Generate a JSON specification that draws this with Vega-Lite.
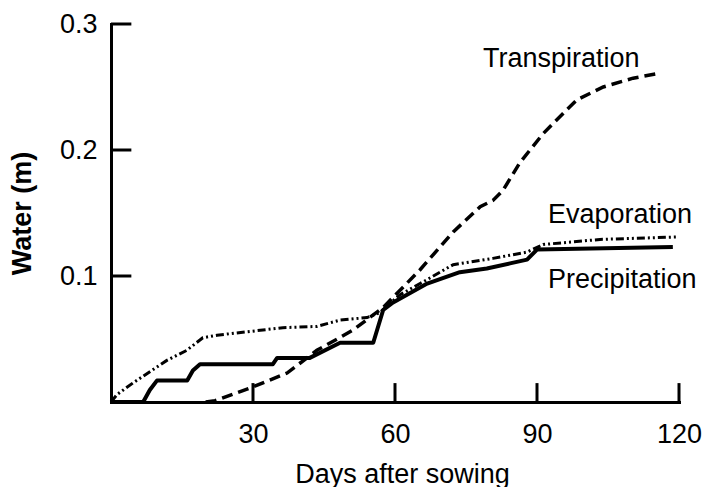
{
  "$schema": "https://vega.github.io/schema/vega-lite/v6.json",
  "width": 568,
  "height": 378,
  "autosize": {"type": "none"},
  "padding": {"left": 111, "top": 24, "right": 23, "bottom": 85},
  "background": "white",
  "config": {"view": {"stroke": null}, "font": "Liberation Sans"},
  "datasets": {
    "series": [
      {"series": "Precipitation", "day": 0, "water": 0},
      {"series": "Precipitation", "day": 6.8, "water": 0},
      {"series": "Precipitation", "day": 8.2, "water": 0.0095},
      {"series": "Precipitation", "day": 9.7, "water": 0.017},
      {"series": "Precipitation", "day": 16.1, "water": 0.017},
      {"series": "Precipitation", "day": 17.3, "water": 0.025},
      {"series": "Precipitation", "day": 18.8, "water": 0.03},
      {"series": "Precipitation", "day": 34.2, "water": 0.03},
      {"series": "Precipitation", "day": 35.1, "water": 0.035},
      {"series": "Precipitation", "day": 42, "water": 0.035},
      {"series": "Precipitation", "day": 48.4, "water": 0.047},
      {"series": "Precipitation", "day": 55.4, "water": 0.047},
      {"series": "Precipitation", "day": 57.5, "water": 0.073},
      {"series": "Precipitation", "day": 59.6, "water": 0.079},
      {"series": "Precipitation", "day": 66.8, "water": 0.094},
      {"series": "Precipitation", "day": 73.7, "water": 0.103},
      {"series": "Precipitation", "day": 79.4, "water": 0.106},
      {"series": "Precipitation", "day": 84.3, "water": 0.11},
      {"series": "Precipitation", "day": 87.9, "water": 0.113},
      {"series": "Precipitation", "day": 90, "water": 0.121},
      {"series": "Precipitation", "day": 118.7, "water": 0.123},
      {"series": "Evaporation", "day": 0, "water": 0},
      {"series": "Evaporation", "day": 1.3, "water": 0.006},
      {"series": "Evaporation", "day": 4.6, "water": 0.015},
      {"series": "Evaporation", "day": 11.8, "water": 0.033},
      {"series": "Evaporation", "day": 16, "water": 0.041},
      {"series": "Evaporation", "day": 19.4, "water": 0.051},
      {"series": "Evaporation", "day": 22.4, "water": 0.053},
      {"series": "Evaporation", "day": 29.4, "water": 0.056},
      {"series": "Evaporation", "day": 36.3, "water": 0.059},
      {"series": "Evaporation", "day": 43.5, "water": 0.06},
      {"series": "Evaporation", "day": 48.4, "water": 0.065},
      {"series": "Evaporation", "day": 54.1, "water": 0.067},
      {"series": "Evaporation", "day": 56.8, "water": 0.071},
      {"series": "Evaporation", "day": 61, "water": 0.085},
      {"series": "Evaporation", "day": 65.3, "water": 0.094},
      {"series": "Evaporation", "day": 72.3, "water": 0.109},
      {"series": "Evaporation", "day": 80.7, "water": 0.114},
      {"series": "Evaporation", "day": 87.9, "water": 0.119},
      {"series": "Evaporation", "day": 91.3, "water": 0.125},
      {"series": "Evaporation", "day": 103.3, "water": 0.129},
      {"series": "Evaporation", "day": 119.6, "water": 0.131},
      {"series": "Transpiration", "day": 20, "water": 0},
      {"series": "Transpiration", "day": 22, "water": 0.001},
      {"series": "Transpiration", "day": 30, "water": 0.012},
      {"series": "Transpiration", "day": 37.2, "water": 0.023},
      {"series": "Transpiration", "day": 43.5, "water": 0.041},
      {"series": "Transpiration", "day": 51.1, "water": 0.057},
      {"series": "Transpiration", "day": 57.5, "water": 0.075},
      {"series": "Transpiration", "day": 65.3, "water": 0.105},
      {"series": "Transpiration", "day": 72.3, "water": 0.135},
      {"series": "Transpiration", "day": 78, "water": 0.155},
      {"series": "Transpiration", "day": 80.7, "water": 0.16},
      {"series": "Transpiration", "day": 82.8, "water": 0.168},
      {"series": "Transpiration", "day": 86.4, "water": 0.19},
      {"series": "Transpiration", "day": 91.3, "water": 0.213},
      {"series": "Transpiration", "day": 96.3, "water": 0.232},
      {"series": "Transpiration", "day": 98.5, "water": 0.24},
      {"series": "Transpiration", "day": 104, "water": 0.25},
      {"series": "Transpiration", "day": 110.3, "water": 0.257},
      {"series": "Transpiration", "day": 116, "water": 0.261}
    ],
    "labels": [
      {"label": "Transpiration", "day": 78.6, "water": 0.266},
      {"label": "Evaporation", "day": 92.3, "water": 0.142},
      {"label": "Precipitation", "day": 92.3, "water": 0.0905}
    ],
    "xticks": [{"day": 30}, {"day": 60}, {"day": 90}, {"day": 120}],
    "yticks": [{"water": 0.1}, {"water": 0.2}, {"water": 0.3}]
  },
  "layer": [
    {
      "data": {"name": "series"},
      "transform": [{"filter": "datum.series === 'Precipitation'"}],
      "mark": {"type": "line", "color": "black", "strokeWidth": 4, "strokeJoin": "round"},
      "encoding": {
        "x": {
          "field": "day", "type": "quantitative",
          "scale": {"domain": [0, 120], "nice": false, "zero": false},
          "axis": {
            "values": [30, 60, 90, 120], "ticks": false, "grid": false,
            "domainColor": "black", "domainWidth": 3, "domainCap": "square",
            "labelFontSize": 27, "labelColor": "black", "labelPadding": 19,
            "labelFont": "Liberation Sans", "labelFlush": false, "labelOverlap": false,
            "title": "Days after sowing", "titleFont": "Liberation Sans", "titleFontSize": 27,
            "titleFontWeight": "normal", "titleColor": "black",
            "titleX": 291, "titleY": 80, "titleAlign": "center", "titleBaseline": "alphabetic", "titleAngle": 0
          }
        },
        "y": {
          "field": "water", "type": "quantitative",
          "scale": {"domain": [0, 0.3], "nice": false},
          "axis": {
            "values": [0.1, 0.2, 0.3], "format": ".1f", "ticks": false, "grid": false,
            "domainColor": "black", "domainWidth": 3, "domainCap": "square",
            "labelFontSize": 27, "labelColor": "black", "labelPadding": 14,
            "labelFont": "Liberation Sans", "labelFlush": false, "labelOverlap": false,
            "title": "Water (m)", "titleFont": "Liberation Sans", "titleFontSize": 27,
            "titleFontWeight": "bold", "titleColor": "black",
            "titleX": -89, "titleY": 189, "titleAngle": -90, "titleAlign": "center", "titleBaseline": "middle"
          }
        },
        "order": {"field": "day", "type": "quantitative"}
      }
    },
    {
      "data": {"name": "series"},
      "transform": [{"filter": "datum.series === 'Evaporation'"}],
      "mark": {"type": "line", "color": "black", "strokeWidth": 3, "strokeDash": [8, 3, 2, 3, 2, 3]},
      "encoding": {
        "x": {"field": "day", "type": "quantitative"},
        "y": {"field": "water", "type": "quantitative"},
        "order": {"field": "day", "type": "quantitative"}
      }
    },
    {
      "data": {"name": "series"},
      "transform": [{"filter": "datum.series === 'Transpiration'"}],
      "mark": {"type": "line", "color": "black", "strokeWidth": 3.5, "strokeDash": [11, 6]},
      "encoding": {
        "x": {"field": "day", "type": "quantitative"},
        "y": {"field": "water", "type": "quantitative"},
        "order": {"field": "day", "type": "quantitative"}
      }
    },
    {
      "data": {"name": "xticks"},
      "mark": {"type": "rule", "color": "black", "strokeWidth": 3},
      "encoding": {
        "x": {"field": "day", "type": "quantitative"},
        "y": {"datum": 0},
        "y2": {"datum": 0.015}
      }
    },
    {
      "data": {"name": "yticks"},
      "mark": {"type": "rule", "color": "black", "strokeWidth": 3},
      "encoding": {
        "y": {"field": "water", "type": "quantitative"},
        "x": {"datum": 0},
        "x2": {"datum": 4.3}
      }
    },
    {
      "data": {"name": "labels"},
      "mark": {"type": "text", "align": "left", "baseline": "alphabetic", "fontSize": 27, "font": "Liberation Sans", "color": "black"},
      "encoding": {
        "x": {"field": "day", "type": "quantitative"},
        "y": {"field": "water", "type": "quantitative"},
        "text": {"field": "label"}
      }
    }
  ]
}
